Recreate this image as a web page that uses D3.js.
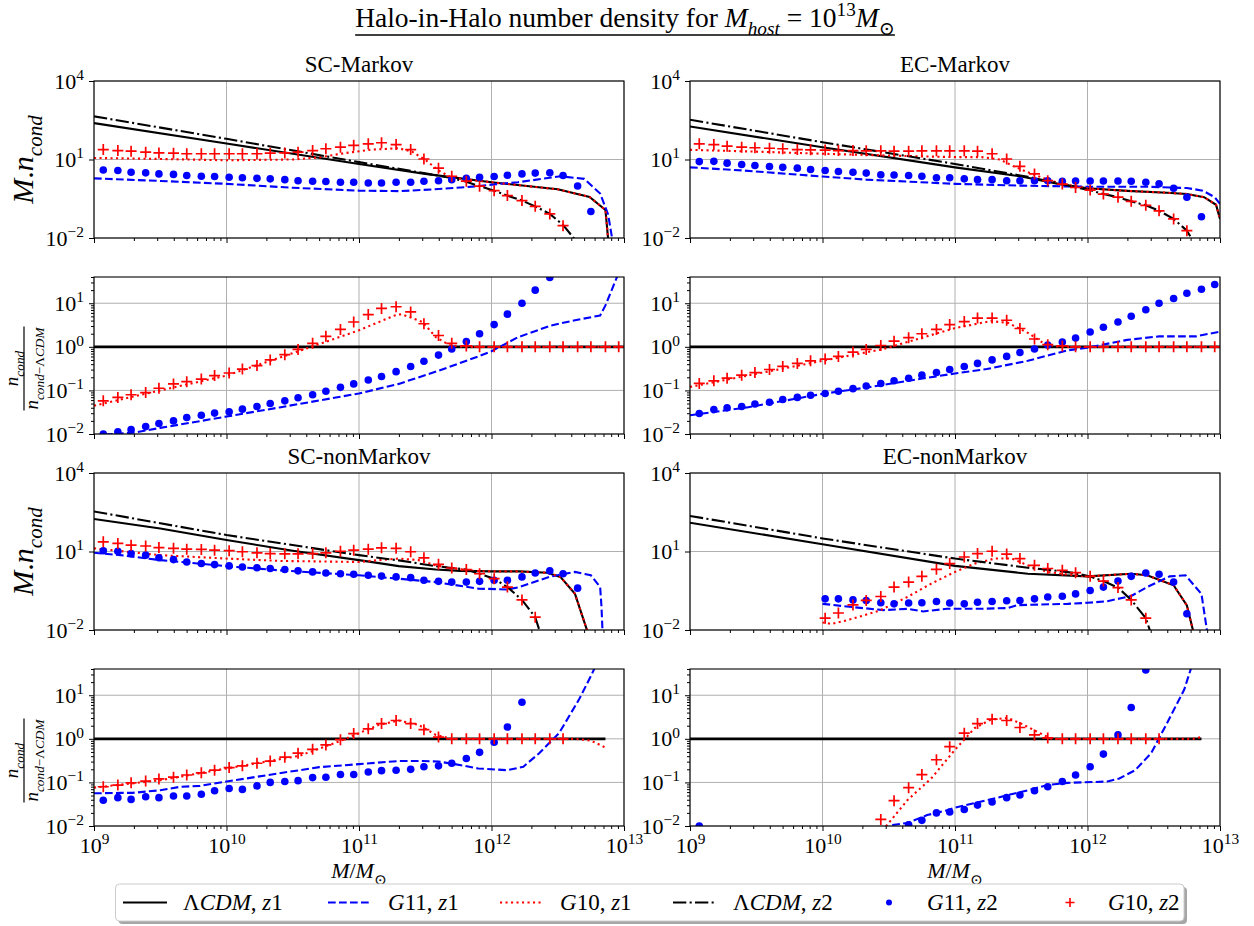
<!DOCTYPE html>
<html>
<head>
<meta charset="utf-8">
<script src="https://cdn.jsdelivr.net/npm/d3@7/dist/d3.min.js"></script>
<style>
html,body{margin:0;padding:0;background:#fff;}
svg{display:block;}
text{font-family:"Liberation Serif","DejaVu Serif","Times New Roman",serif;fill:#000;}
</style>
</head>
<body>
<svg id="chart" width="1254" height="926" font-family="Liberation Serif, DejaVu Serif, serif"></svg>
<script>
// ================= DATA (log10 values) =================
const X_TICKS_LOG = [9, 10, 11, 12, 13];
const Y_TICKS_MAIN_LOG = [-2, 1, 4];
const Y_TICKS_RATIO_LOG = [-2, -1, 0, 1];
const RATIO_TOP = 40;

// x positions (log10 M) of the z2 marker series
const MARKER_LOGM = [9.07,9.18,9.28,9.39,9.49,9.60,9.70,9.81,9.91,10.02,10.12,10.23,10.33,10.44,10.54,10.65,10.75,10.86,10.96,11.07,11.17,11.28,11.39,11.49,11.60,11.70,11.81,11.91,12.02,12.12,12.23,12.33,12.44,12.54,12.65,12.75,12.86,12.96];

// ---- SC-Markov, M.n_cond ----
const SCM_LCDM_Z1 = [[9,2.39],[10,1.61],[11,0.83],[11.5,0.45],[12,0.13],[12.5,-0.14],[12.74,-0.43],[12.86,-0.93],[12.885,-2.3]];
const SCM_G11_Z1 = [[9,0.28],[9.5,0.18],[10,0.07],[10.5,-0.08],[11,-0.19],[11.3,-0.21],[11.6,-0.13],[11.9,-0.02],[12,0.04],[12.2,0.13],[12.52,0.36],[12.7,0.26],[12.82,-0.3],[12.88,-1.1],[12.92,-2.3]];
const SCM_G10_Z1 = [[9,1.06],[9.5,1.02],[10,0.97],[10.5,1.0],[10.7,1.08],[10.9,1.25],[11.1,1.38],[11.3,1.43],[11.4,1.3],[11.5,0.99],[11.6,0.58],[11.7,0.3],[11.8,0.25],[12,0.13],[12.5,-0.14],[12.74,-0.43],[12.86,-0.93],[12.885,-2.3]];
const SCM_LCDM_Z2 = [[9,2.65],[10,1.79],[11,0.9],[11.5,0.47],[11.7,0.29],[11.81,0.15],[11.91,-0.02],[12.02,-0.19],[12.12,-0.38],[12.23,-0.57],[12.33,-0.79],[12.44,-1.08],[12.54,-1.5],[12.62,-2.0],[12.66,-2.3]];
const SCM_G11_Z2 = [0.60,0.58,0.51,0.49,0.45,0.43,0.39,0.36,0.35,0.32,0.30,0.28,0.26,0.23,0.19,0.17,0.16,0.13,0.13,0.10,0.10,0.13,0.13,0.17,0.19,0.23,0.28,0.32,0.35,0.40,0.45,0.48,0.49,0.39,-0.01,-0.99,null,null];
const SCM_G10_Z2 = [1.38,1.34,1.32,1.28,1.25,1.24,1.22,1.22,1.22,1.22,1.22,1.22,1.24,1.25,1.28,1.34,1.41,1.47,1.54,1.60,1.64,1.57,1.38,1.02,0.67,0.36,0.17,-0.02,-0.19,-0.38,-0.57,-0.79,-1.08,-1.53,null,null,null,null];
// ---- SC-Markov, ratio ----
const SCM_R_G11_Z1 = [[9,-2.03],[9.3,-1.97],[9.5,-1.86],[10,-1.6],[10.4,-1.39],[11,-1.07],[11.3,-0.85],[11.6,-0.55],[11.9,-0.22],[12,-0.1],[12.2,0.22],[12.45,0.49],[12.63,0.61],[12.82,0.72],[12.86,0.95],[12.96,1.7]];
const SCM_R_G10_Z1 = [[9,-1.35],[9.5,-1.0],[10,-0.66],[10.64,0],[11,0.38],[11.27,0.72],[11.32,0.75],[11.48,0.57],[11.58,0.22],[11.69,0.03],[11.8,0],[13,0]];
const SCM_R_G11_Z2 = [-2.0,-1.95,-1.90,-1.83,-1.76,-1.70,-1.62,-1.57,-1.52,-1.49,-1.43,-1.37,-1.30,-1.24,-1.17,-1.10,-1.02,-0.93,-0.85,-0.76,-0.68,-0.57,-0.45,-0.33,-0.19,-0.05,0.12,0.30,0.51,0.75,1.0,1.30,1.59,null,null,null,null,null];
const SCM_R_G10_Z2 = [-1.24,-1.16,-1.10,-1.05,-0.95,-0.85,-0.80,-0.74,-0.66,-0.60,-0.51,-0.43,-0.30,-0.18,-0.06,0.08,0.24,0.40,0.57,0.74,0.88,0.92,0.80,0.53,0.26,0.08,0.02,0,0,0,0,0,0,0,0,0,0,0];

// ---- EC-Markov, M.n_cond ----
const ECM_LCDM_Z1 = [[9,2.26],[10,1.47],[11,0.7],[11.5,0.35],[11.8,0.05],[12,-0.1],[12.3,-0.2],[12.6,-0.27],[12.75,-0.32],[12.88,-0.44],[12.97,-0.73],[13,-1.27]];
const ECM_G11_Z1 = [[9,0.7],[9.4,0.58],[10,0.35],[10.33,0.23],[11,0.07],[11.5,0.0],[12,-0.04],[12.45,-0.04],[12.75,-0.09],[12.87,-0.19],[12.96,-0.44],[13,-0.7]];
const ECM_G10_Z1 = [[9,1.37],[9.5,1.3],[10,1.22],[10.5,1.15],[11,1.09],[11.2,1.09],[11.34,1.0],[11.43,0.77],[11.55,0.51],[11.7,0.23],[11.8,0.07],[12,-0.1],[12.3,-0.2],[12.6,-0.27],[12.75,-0.32],[12.88,-0.44],[12.97,-0.73],[13,-1.27]];
const ECM_LCDM_Z2 = [[9,2.52],[10,1.66],[11,0.83],[11.3,0.56],[11.55,0.34],[11.7,0.18],[11.81,0.06],[11.91,-0.07],[12.02,-0.17],[12.12,-0.32],[12.23,-0.44],[12.33,-0.6],[12.44,-0.75],[12.54,-0.96],[12.65,-1.27],[12.75,-1.72],[12.82,-2.3]];
const ECM_G11_Z2 = [0.92,0.93,0.86,0.81,0.77,0.73,0.70,0.67,0.62,0.58,0.54,0.51,0.48,0.42,0.41,0.39,0.36,0.30,0.30,0.26,0.23,0.23,0.19,0.19,0.19,0.19,0.17,0.18,0.18,0.18,0.18,0.17,0.13,0.07,-0.10,-0.44,-1.19,null];
const ECM_G10_Z2 = [1.60,1.57,1.51,1.47,1.45,1.43,1.41,1.38,1.37,1.36,1.34,1.34,1.33,1.33,1.32,1.32,1.33,1.33,1.33,1.33,1.32,1.22,1.02,0.74,0.45,0.19,0.06,-0.07,-0.17,-0.32,-0.44,-0.60,-0.75,-0.96,-1.27,-1.72,null,null];
// ---- EC-Markov, ratio ----
const ECM_R_G11_Z1 = [[9,-1.57],[9.43,-1.39],[10,-1.08],[10.34,-0.93],[11,-0.61],[11.24,-0.51],[11.55,-0.32],[11.85,-0.08],[12,-0.02],[12.3,0.16],[12.54,0.24],[12.82,0.24],[13,0.35]];
const ECM_R_G10_Z1 = [[9,-0.92],[10,-0.32],[10.46,-0.05],[11,0.43],[11.27,0.59],[11.4,0.55],[11.55,0.32],[11.67,0.08],[11.76,0.01],[11.85,0],[13,0]];
const ECM_R_G11_Z2 = [-1.53,-1.44,-1.40,-1.37,-1.31,-1.27,-1.21,-1.16,-1.11,-1.07,-1.02,-0.96,-0.90,-0.84,-0.78,-0.72,-0.65,-0.59,-0.52,-0.45,-0.38,-0.30,-0.22,-0.13,-0.05,0.04,0.11,0.20,0.34,0.45,0.57,0.70,0.85,1.0,1.11,1.23,1.32,1.43];
const ECM_R_G10_Z2 = [-0.84,-0.78,-0.72,-0.65,-0.59,-0.52,-0.45,-0.38,-0.32,-0.28,-0.22,-0.12,-0.06,0.03,0.13,0.21,0.30,0.40,0.51,0.58,0.66,0.66,0.61,0.42,0.18,0.05,0.02,0,0,0,0,0,0,0,0,0,0,0];

// ---- SC-nonMarkov, M.n_cond ----
const SCNM_LCDM_Z1 = [[9,2.24],[9.5,1.88],[10,1.44],[10.5,1.03],[11,0.67],[11.3,0.44],[11.58,0.31],[11.76,0.26],[12,0.24],[12.21,0.24],[12.42,0.19],[12.52,0.03],[12.63,-0.62],[12.74,-2.3]];
const SCNM_G11_Z1 = [[9,0.95],[9.2,0.86],[9.5,0.67],[10,0.44],[10.4,0.28],[11,0.09],[11.3,-0.04],[11.58,-0.17],[11.9,-0.42],[12.12,-0.45],[12.21,-0.36],[12.45,0.05],[12.63,0.22],[12.75,0.09],[12.82,-0.36],[12.83,-1.1],[12.84,-2.3]];
const SCNM_G10_Z1 = [[9,1.12],[9.5,0.86],[10,0.73],[10.4,0.64],[11,0.6],[11.15,0.67],[11.3,0.73],[11.45,0.67],[11.58,0.47],[11.7,0.35],[11.9,0.25],[12,0.24],[12.21,0.24],[12.42,0.19],[12.52,0.03],[12.63,-0.62],[12.74,-2.3]];
const SCNM_LCDM_Z2 = [[9,2.53],[10,1.63],[11,0.86],[11.3,0.66],[11.58,0.44],[11.7,0.37],[11.81,0.31],[11.91,0.15],[12.02,-0.04],[12.12,-0.36],[12.23,-0.85],[12.33,-1.51],[12.38,-2.3]];
const SCNM_G11_Z2 = [1.03,1.01,0.92,0.86,0.76,0.69,0.60,0.54,0.50,0.45,0.41,0.38,0.35,0.31,0.26,0.22,0.18,0.15,0.13,0.09,0.06,0.03,0.0,-0.10,-0.14,-0.17,-0.17,-0.14,-0.10,-0.10,0.03,0.18,0.26,0.15,-0.40,null,null,null];
const SCNM_G10_Z2 = [1.37,1.31,1.24,1.21,1.15,1.12,1.09,1.08,1.05,1.03,0.99,0.95,0.92,0.91,0.91,0.92,0.95,1.01,1.05,1.09,1.14,1.12,0.99,0.76,0.51,0.37,0.31,0.15,-0.04,-0.36,-0.85,-1.51,null,null,null,null,null,null];
// ---- SC-nonMarkov, ratio ----
const SCNM_R_G11_Z1 = [[9,-1.25],[9.2,-1.24],[9.29,-1.24],[9.5,-1.18],[9.65,-1.1],[9.8,-1.08],[10,-0.98],[10.4,-0.79],[10.7,-0.65],[11,-0.58],[11.3,-0.51],[11.48,-0.51],[11.6,-0.52],[11.76,-0.6],[11.9,-0.68],[12.12,-0.72],[12.24,-0.64],[12.36,-0.33],[12.51,0.13],[12.66,0.9],[12.75,1.44],[12.79,1.7]];
const SCNM_R_G10_Z1 = [[9,-1.12],[9.5,-0.95],[10,-0.68],[10.55,-0.39],[10.85,-0.06],[11.15,0.32],[11.3,0.42],[11.45,0.32],[11.58,0.09],[11.7,0],[12.63,0],[12.75,-0.04],[12.86,-0.2]];
const SCNM_R_G11_Z2 = [-1.41,-1.35,-1.39,-1.33,-1.35,-1.31,-1.31,-1.27,-1.19,-1.14,-1.16,-1.08,-1.0,-0.98,-0.96,-0.89,-0.88,-0.82,-0.82,-0.76,-0.73,-0.72,-0.70,-0.64,-0.62,-0.56,-0.45,-0.31,-0.08,0.27,0.84,null,null,null,null,null,null,null];
const SCNM_R_G10_Z2 = [-1.10,-1.06,-1.01,-0.97,-0.92,-0.88,-0.83,-0.78,-0.72,-0.66,-0.62,-0.56,-0.51,-0.42,-0.33,-0.24,-0.14,-0.02,0.12,0.23,0.35,0.42,0.35,0.21,0.04,0,0,0,0,0,0,0,0,0,null,null,null,null];

// ---- EC-nonMarkov, M.n_cond ----
const ECNM_LCDM_Z1 = [[9,2.1],[10,1.28],[11,0.45],[11.55,0.15],[12,0.05],[12.33,0.15],[12.45,0.09],[12.65,-0.29],[12.75,-1.06],[12.81,-2.3]];
const ECNM_G11_Z1 = [[10.0,-1.0],[10.22,-1.12],[10.46,-1.24],[10.64,-1.19],[10.76,-1.29],[10.94,-1.19],[11.18,-1.19],[11.4,-1.16],[11.47,-1.05],[11.85,-1.0],[12,-0.96],[12.15,-0.9],[12.33,-0.7],[12.45,-0.36],[12.62,0.05],[12.74,0.09],[12.86,-0.62],[12.91,-2.3]];
const ECNM_G10_Z1 = [[10.0,-1.71],[10.07,-1.77],[10.22,-1.58],[10.43,-1.26],[10.64,-0.74],[10.82,-0.23],[11.0,0.22],[11.15,0.54],[11.3,0.73],[11.43,0.73],[11.55,0.47],[11.7,0.22],[11.85,0.12],[12,0.05],[12.33,0.15],[12.45,0.09],[12.65,-0.29],[12.75,-1.06],[12.81,-2.3]];
const ECNM_LCDM_Z2 = [[9,2.36],[10,1.5],[11,0.73],[11.55,0.38],[11.81,0.24],[11.91,0.17],[12.02,0.04],[12.12,-0.13],[12.23,-0.38],[12.33,-0.85],[12.44,-1.55],[12.49,-2.3]];
const ECNM_G11_Z2 = [null,null,null,null,null,null,null,null,null,-0.81,-0.81,-0.85,-0.87,-0.96,-1.0,-0.97,-0.96,-0.91,-0.97,-1.0,-0.94,-0.91,-0.88,-0.87,-0.81,-0.74,-0.71,-0.62,-0.49,-0.36,-0.13,0.05,0.18,0.13,-0.17,-1.38,null,null];
const ECNM_G10_Z2 = [null,null,null,null,null,null,null,null,null,-1.55,-1.35,-1.04,-0.87,-0.72,-0.36,-0.17,0.05,0.32,0.54,0.79,0.92,1.01,0.90,0.73,0.47,0.35,0.28,0.19,0.05,-0.13,-0.38,-0.85,-1.55,null,null,null,null,null];
// ---- EC-nonMarkov, ratio ----
const ECNM_R_G11_Z1 = [[10.4,-2.3],[10.52,-1.98],[10.64,-1.93],[10.79,-1.75],[10.94,-1.64],[11.0,-1.58],[11.24,-1.41],[11.55,-1.18],[11.7,-1.06],[11.85,-1.01],[12.15,-0.98],[12.24,-0.91],[12.36,-0.72],[12.48,-0.33],[12.6,0.36],[12.73,1.13],[12.79,1.7]];
const ECNM_R_G10_Z1 = [[10.4,-2.3],[10.64,-1.41],[10.82,-0.91],[11.0,-0.25],[11.15,0.25],[11.27,0.44],[11.4,0.48],[11.52,0.32],[11.64,0.13],[11.73,0],[12.8,0],[12.86,0.04]];
const ECNM_R_G11_Z2 = [-2.0,null,null,null,null,null,null,null,null,null,null,null,null,null,null,-1.97,-1.87,-1.70,-1.68,-1.62,-1.52,-1.45,-1.35,-1.29,-1.19,-1.10,-0.98,-0.83,-0.64,-0.35,0.09,0.72,1.58,null,null,null,null,null];
const ECNM_R_G10_Z2 = [null,null,null,null,null,null,null,null,null,null,null,null,null,-1.85,-1.42,-1.12,-0.82,-0.48,-0.18,0.13,0.35,0.45,0.42,0.26,0.09,0.02,0,0,0,0,0,0,0,0,null,null,null,null];

// unity line of the ratio panels
const RATIO_UNITY_FULL = [[9,0],[13,0]];
const RATIO_UNITY_SHORT = [[9,0],[12.86,0]];

const PANEL_TITLES = ['SC-Markov','EC-Markov','SC-nonMarkov','EC-nonMarkov'];

// ================= LAYOUT / STYLE =================
const W = 1254, H = 926;
const COLS = [94, 690], PW = 530;
const ROWS = [81, 277, 473, 669], PH = 157;
const FS_TICK = 22, FS_TITLE = 27.5, FS_SUB = 23, FS_YLAB = 30, FS_FRAC = 19, FS_XLAB = 22, FS_LEG = 23;
const TICK_MAJOR = 5, TICK_MINOR = 3;
const DOT_R = 3.8, PLUS = 5.5;
const LINE_STYLE = {
  lcdm1: {color:'#000000', width:2.1, dash:null},
  g11z1: {color:'#0000ff', width:2.1, dash:'7.7,3.3'},
  g10z1: {color:'#ff0000', width:2.1, dash:'2.1,3.4'},
  lcdm2: {color:'#000000', width:2.1, dash:'13.3,3.3,2.1,3.3'},
  unity: {color:'#000000', width:2.6, dash:null}
};

const PANELS = [
  {col:0,row:0,kind:'main',title:PANEL_TITLES[0],
   lines:[[SCM_LCDM_Z1,'lcdm1'],[SCM_G11_Z1,'g11z1'],[SCM_G10_Z1,'g10z1'],[SCM_LCDM_Z2,'lcdm2']], dots:SCM_G11_Z2, plus:SCM_G10_Z2},
  {col:1,row:0,kind:'main',title:PANEL_TITLES[1],
   lines:[[ECM_LCDM_Z1,'lcdm1'],[ECM_G11_Z1,'g11z1'],[ECM_G10_Z1,'g10z1'],[ECM_LCDM_Z2,'lcdm2']], dots:ECM_G11_Z2, plus:ECM_G10_Z2},
  {col:0,row:1,kind:'ratio',
   lines:[[RATIO_UNITY_FULL,'unity'],[SCM_R_G11_Z1,'g11z1'],[SCM_R_G10_Z1,'g10z1']], dots:SCM_R_G11_Z2, plus:SCM_R_G10_Z2},
  {col:1,row:1,kind:'ratio',
   lines:[[RATIO_UNITY_FULL,'unity'],[ECM_R_G11_Z1,'g11z1'],[ECM_R_G10_Z1,'g10z1']], dots:ECM_R_G11_Z2, plus:ECM_R_G10_Z2},
  {col:0,row:2,kind:'main',title:PANEL_TITLES[2],
   lines:[[SCNM_LCDM_Z1,'lcdm1'],[SCNM_G11_Z1,'g11z1'],[SCNM_G10_Z1,'g10z1'],[SCNM_LCDM_Z2,'lcdm2']], dots:SCNM_G11_Z2, plus:SCNM_G10_Z2},
  {col:1,row:2,kind:'main',title:PANEL_TITLES[3],
   lines:[[ECNM_LCDM_Z1,'lcdm1'],[ECNM_G11_Z1,'g11z1'],[ECNM_G10_Z1,'g10z1'],[ECNM_LCDM_Z2,'lcdm2']], dots:ECNM_G11_Z2, plus:ECNM_G10_Z2},
  {col:0,row:3,kind:'ratio',
   lines:[[RATIO_UNITY_SHORT,'unity'],[SCNM_R_G11_Z1,'g11z1'],[SCNM_R_G10_Z1,'g10z1']], dots:SCNM_R_G11_Z2, plus:SCNM_R_G10_Z2},
  {col:1,row:3,kind:'ratio',
   lines:[[RATIO_UNITY_SHORT,'unity'],[ECNM_R_G11_Z1,'g11z1'],[ECNM_R_G10_Z1,'g10z1']], dots:ECNM_R_G11_Z2, plus:ECNM_R_G10_Z2}
];

const LEGEND_ITEMS = [
  {kind:'line', style:'lcdm1', label:[['\u039b'],['CDM','i'],[', '],['z','i'],['1']]},
  {kind:'line', style:'g11z1', label:[['G','i'],['11, '],['z','i'],['1']]},
  {kind:'line', style:'g10z1', label:[['G','i'],['10, '],['z','i'],['1']]},
  {kind:'line', style:'lcdm2', label:[['\u039b'],['CDM','i'],[', '],['z','i'],['2']]},
  {kind:'dot', label:[['G','i'],['11, '],['z','i'],['2']]},
  {kind:'plus', label:[['G','i'],['10, '],['z','i'],['2']]}
];
const LEGEND_HANDLE_X = [123, 328, 500, 673, 867, 1048];
const LEG_BOX = {x:115.5, y:884, w:1068.5, h:37};

// ================= DRAWING =================
const svg = d3.select('#chart');
svg.append('rect').attr('width', W).attr('height', H).attr('fill', '#fff');
const defs = svg.append('defs');

function rich(sel, parts, fs){
  let shift = 0;
  parts.forEach(([t, f = '']) => {
    const ts = sel.append('tspan').text(t);
    const sub = f.includes('b'), sup = f.includes('p');
    const target = sub ? fs * 0.3 : (sup ? -fs * 0.4 : 0);
    if (target !== shift) ts.attr('dy', target - shift);
    shift = target;
    if (sub || sup) ts.style('font-size', (fs * 0.7) + 'px');
    if (f.includes('i')) ts.style('font-style', 'italic');
  });
}
function sciLabel(sel, fs){
  sel.each(function(d){
    const e = Math.round(Math.log10(d));
    const t = d3.select(this);
    t.text(null).style('font-size', fs + 'px').attr('fill', '#000')
      .style('font-family', '"Liberation Serif","DejaVu Serif",serif');
    rich(t, [['10'], [e < 0 ? '\u2212' + (-e) : String(e), 'p']], fs);
  });
}

PANELS.forEach((p, i) => {
  const x0 = COLS[p.col], y0 = ROWS[p.row];
  const x = d3.scaleLog().domain([1e9, 1e13]).range([x0, x0 + PW]);
  const y = d3.scaleLog().domain(p.kind === 'main' ? [1e-2, 1e4] : [1e-2, RATIO_TOP]).range([y0 + PH, y0]);
  const g = svg.append('g');
  const xMajor = X_TICKS_LOG.map(v => Math.pow(10, v));
  const yMajor = (p.kind === 'main' ? Y_TICKS_MAIN_LOG : Y_TICKS_RATIO_LOG).map(v => Math.pow(10, v));

  // grid
  const grid = g.append('g').attr('stroke', '#b0b0b0').attr('stroke-width', 1);
  grid.selectAll('line.gx').data(xMajor).join('line').attr('class', 'gx')
    .attr('x1', d => x(d)).attr('x2', d => x(d)).attr('y1', y0).attr('y2', y0 + PH);
  grid.selectAll('line.gy').data(yMajor).join('line').attr('class', 'gy')
    .attr('x1', x0).attr('x2', x0 + PW).attr('y1', d => y(d)).attr('y2', d => y(d));

  // data
  const clipId = 'clip' + i;
  defs.append('clipPath').attr('id', clipId).append('rect')
    .attr('x', x0).attr('y', y0).attr('width', PW).attr('height', PH);
  const dg = g.append('g').attr('clip-path', `url(#${clipId})`);
  const line = d3.line().x(d => x(Math.pow(10, d[0]))).y(d => y(Math.pow(10, d[1])));
  p.lines.forEach(([data, key]) => {
    const s = LINE_STYLE[key];
    dg.append('path').attr('d', line(data)).attr('fill', 'none')
      .attr('stroke', s.color).attr('stroke-width', s.width)
      .attr('stroke-dasharray', s.dash);
  });
  const pts = arr => MARKER_LOGM.map((m, k) => [m, arr[k]]).filter(d => d[1] !== null && d[1] !== undefined);
  dg.selectAll('circle.dot').data(pts(p.dots)).join('circle').attr('class', 'dot')
    .attr('cx', d => x(Math.pow(10, d[0]))).attr('cy', d => y(Math.pow(10, d[1])))
    .attr('r', DOT_R).attr('fill', '#0000ff');
  dg.selectAll('path.plus').data(pts(p.plus)).join('path').attr('class', 'plus')
    .attr('transform', d => `translate(${x(Math.pow(10, d[0]))},${y(Math.pow(10, d[1]))})`)
    .attr('d', `M${-PLUS},0H${PLUS}M0,${-PLUS}V${PLUS}`)
    .attr('stroke', '#ff0000').attr('stroke-width', 1.7).attr('fill', 'none');

  // spines
  g.append('rect').attr('x', x0).attr('y', y0).attr('width', PW).attr('height', PH)
    .attr('fill', 'none').attr('stroke', '#000').attr('stroke-width', 1.1);

  // x axis
  const xa = g.append('g').attr('transform', `translate(0,${y0 + PH})`)
    .call(d3.axisBottom(x).tickValues(xMajor).tickSize(TICK_MAJOR).tickPadding(6).tickSizeOuter(0));
  xa.select('.domain').remove();
  if (p.row === 3) sciLabel(xa.selectAll('.tick text'), FS_TICK);
  else xa.selectAll('.tick text').remove();
  const xMinor = [];
  for (let e = 9; e < 13; e++) for (let m = 2; m <= 9; m++) xMinor.push(m * Math.pow(10, e));
  const xm = g.append('g').attr('transform', `translate(0,${y0 + PH})`)
    .call(d3.axisBottom(x).tickValues(xMinor).tickSize(TICK_MINOR).tickFormat(() => '').tickSizeOuter(0));
  xm.select('.domain').remove();

  // y axis
  const ya = g.append('g').attr('transform', `translate(${x0},0)`)
    .call(d3.axisLeft(y).tickValues(yMajor).tickSize(TICK_MAJOR).tickPadding(5).tickSizeOuter(0));
  ya.select('.domain').remove();
  sciLabel(ya.selectAll('.tick text'), FS_TICK);
  if (p.kind === 'ratio') {
    const yMinor = [];
    for (let e = -2; e <= 1; e++) for (let m = 2; m <= 9; m++) { const v = m * Math.pow(10, e); if (v <= RATIO_TOP) yMinor.push(v); }
    const ym = g.append('g').attr('transform', `translate(${x0},0)`)
      .call(d3.axisLeft(y).tickValues(yMinor).tickSize(TICK_MINOR).tickFormat(() => '').tickSizeOuter(0));
    ym.select('.domain').remove();
  }

  // subplot title
  if (p.title) {
    g.append('text').attr('x', x0 + PW / 2).attr('y', y0 - 9).attr('text-anchor', 'middle')
      .style('font-size', FS_SUB + 'px').text(p.title);
  }

  // y labels (left column only)
  if (p.col === 0) {
    const cy = y0 + PH / 2;
    if (p.kind === 'main') {
      const t = svg.append('text').attr('transform', `translate(33,${cy}) rotate(-90)`)
        .attr('text-anchor', 'middle').style('font-size', FS_YLAB + 'px');
      rich(t, [['M', 'i'], ['.'], ['n', 'i'], ['cond', 'ib']], FS_YLAB);
    } else {
      const gg = svg.append('g').attr('transform', `translate(24,${cy + 13}) rotate(-90)`);
      const num = gg.append('text').attr('x', 0).attr('y', -6).attr('text-anchor', 'middle').style('font-size', FS_FRAC + 'px');
      rich(num, [['n', 'i'], ['cond', 'ib']], FS_FRAC);
      const den = gg.append('text').attr('x', 0).attr('y', 14).attr('text-anchor', 'middle').style('font-size', FS_FRAC + 'px');
      rich(den, [['n', 'i'], ['cond', 'ib'], ['\u2212', 'b'], ['\u039b', 'b'], ['CDM', 'ib']], FS_FRAC);
      const w = Math.max(num.node().getComputedTextLength(), den.node().getComputedTextLength());
      gg.append('line').attr('x1', -w / 2 - 1).attr('x2', w / 2 + 1).attr('y1', 0).attr('y2', 0)
        .attr('stroke', '#000').attr('stroke-width', 1.2);
    }
  }
  // x labels (bottom row)
  if (p.row === 3) {
    const t = svg.append('text').attr('x', x0 + PW / 2).attr('y', 878).attr('text-anchor', 'middle')
      .style('font-size', FS_XLAB + 'px');
    rich(t, [['M', 'i'], ['/'], ['M', 'i'], ['\u2299', 'b']], FS_XLAB);
  }
});

// figure title
const title = svg.append('text').attr('x', 625).attr('y', 27).attr('text-anchor', 'middle')
  .style('font-size', FS_TITLE + 'px');
rich(title, [['Halo-in-Halo number density for '], ['M', 'i'], ['host', 'ib'], [' = 10'], ['13', 'p'], ['M', 'i'], ['\u2299', 'b']], FS_TITLE);
const tb = title.node().getBBox();
svg.append('line').attr('x1', tb.x).attr('x2', tb.x + tb.width).attr('y1', 35).attr('y2', 35)
  .attr('stroke', '#000').attr('stroke-width', 1.3);

// legend
const lg = svg.append('g');
lg.append('rect').attr('x', LEG_BOX.x + 3).attr('y', LEG_BOX.y + 3).attr('width', LEG_BOX.w).attr('height', LEG_BOX.h)
  .attr('rx', 4).attr('fill', '#a6a6a6');
lg.append('rect').attr('x', LEG_BOX.x).attr('y', LEG_BOX.y).attr('width', LEG_BOX.w).attr('height', LEG_BOX.h)
  .attr('rx', 4).attr('fill', '#fff').attr('stroke', '#cccccc').attr('stroke-width', 1);
const lcy = LEG_BOX.y + LEG_BOX.h / 2;
LEGEND_ITEMS.forEach((it, k) => {
  const hx = LEGEND_HANDLE_X[k];
  if (it.kind === 'line') {
    const s = LINE_STYLE[it.style];
    lg.append('line').attr('x1', hx).attr('x2', hx + 44).attr('y1', lcy).attr('y2', lcy)
      .attr('stroke', s.color).attr('stroke-width', s.width).attr('stroke-dasharray', s.dash);
  } else if (it.kind === 'dot') {
    lg.append('circle').attr('cx', hx + 22).attr('cy', lcy).attr('r', 3).attr('fill', '#0000ff');
  } else {
    lg.append('path').attr('transform', `translate(${hx + 22},${lcy})`)
      .attr('d', `M-4.5,0H4.5M0,-4.5V4.5`).attr('stroke', '#ff0000').attr('stroke-width', 1.6);
  }
  const t = lg.append('text').attr('x', hx + 60).attr('y', lcy + 7).style('font-size', FS_LEG + 'px');
  rich(t, it.label, FS_LEG);
});
</script>
</body>
</html>
